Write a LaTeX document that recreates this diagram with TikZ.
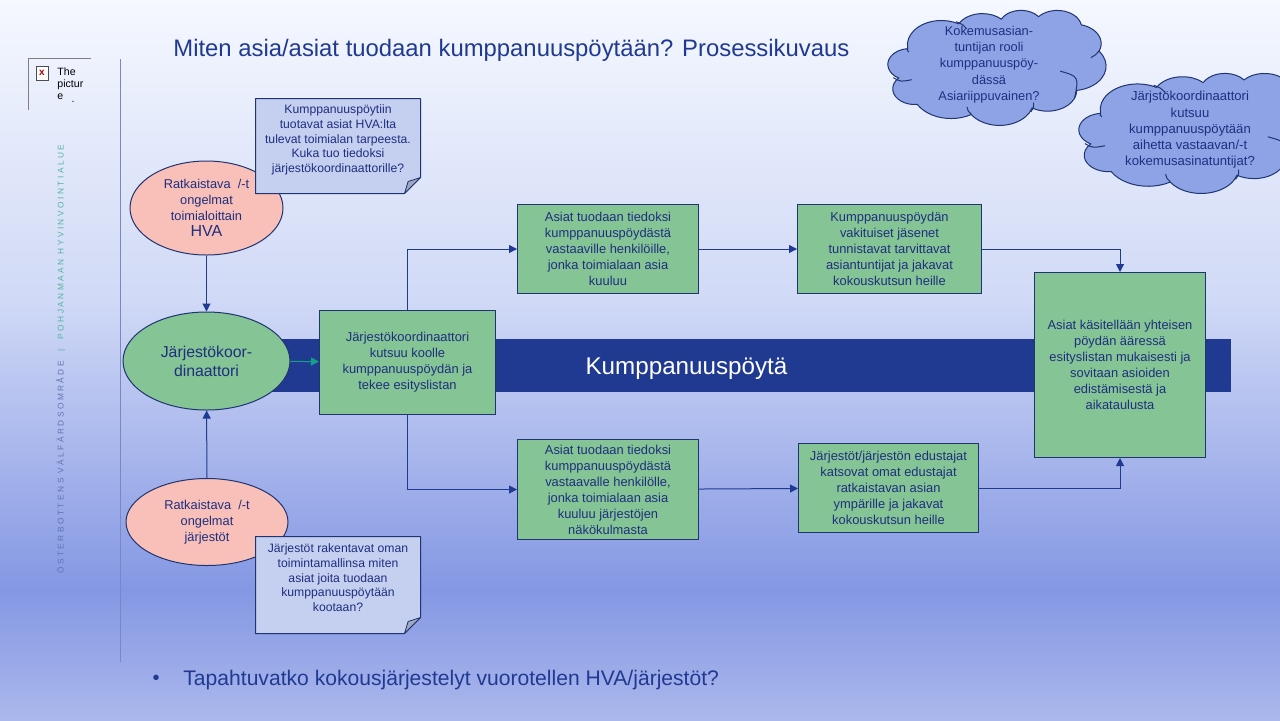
\documentclass[tikz,border=0pt]{standalone}
\usepackage{fontspec}
\setmainfont{Liberation Sans}
\newfontfamily\spaced[LetterSpace=30]{Liberation Sans}
\usetikzlibrary{positioning,arrows.meta,shapes.geometric}
\definecolor{ink}{HTML}{1F2F7F}
\definecolor{navy}{HTML}{203A92}
\definecolor{edge}{HTML}{1F3470}
\definecolor{vihrea}{HTML}{85C495}
\definecolor{pun}{HTML}{F8C0B8}
\definecolor{lappu}{HTML}{C5CFF0}
\definecolor{pilvi}{HTML}{8EA3E6}
\definecolor{taite}{HTML}{A0A8C0}
\definecolor{turkoosi}{HTML}{4FB5A0}
\definecolor{harmaa}{HTML}{5F75B0}
\definecolor{nuoli}{HTML}{14A085}
\definecolor{bgA}{HTML}{F5F8FF}
\definecolor{bgB}{HTML}{D0D9F6}
\definecolor{bgC}{HTML}{8497E3}
\definecolor{bgD}{HTML}{ABB8EC}
\tikzset{
  >={Triangle[length=4pt,width=4pt]},
  box/.style={draw=edge, line width=.5pt, fill=vihrea, align=center, text=ink, inner sep=0pt,
              font=\fontsize{6.45}{8}\selectfont},
  soikio/.style={ellipse, draw=edge, line width=.5pt, align=center, text=ink, inner sep=0pt},
  prob/.style={soikio, fill=pun, font=\fontsize{6.4}{8}\selectfont},
  lappubox/.style={minimum width=83pt, align=center, text=ink, inner sep=0pt,
              font=\fontsize{6.1}{7.3}\selectfont,
              path picture={
                \coordinate (nw) at ([shift={(.25pt,-.25pt)}]path picture bounding box.north west);
                \coordinate (ne) at ([shift={(-.25pt,-.25pt)}]path picture bounding box.north east);
                \coordinate (sw) at ([shift={(.25pt,.25pt)}]path picture bounding box.south west);
                \coordinate (se) at ([shift={(-.25pt,.25pt)}]path picture bounding box.south east);
                \draw[edge, line width=.5pt, fill=lappu, line join=round]
                  (nw) -- (ne) -- ([yshift=8pt]se) -- ([xshift=-8pt]se) -- (sw) -- cycle;
                \draw[edge, line width=.4pt, fill=taite, line join=round]
                  ([xshift=-8pt]se) -- ([shift={(-6.2pt,6pt)}]se) -- ([yshift=8pt]se) -- cycle;
              }},
  pilviline/.style={draw=edge, line width=.5pt, fill=pilvi},
  crease/.style={draw=edge, line width=.5pt},
  pilvitxt/.style={align=center, text=ink, inner sep=0pt, font=\fontsize{6.4}{8.1}\selectfont},
  l/.style={->, line width=.5pt, draw=navy},
}
% one lobe of the cloud outline: x radius, y radius, start, sweep
\newcommand{\lobe}[4]{arc[x radius=#1,y radius=#2,start angle={atan2(#1*sin(#3),#2*cos(#3))},
  delta angle={mod(atan2(#1*sin(#3+#4),#2*cos(#3+#4))-atan2(#1*sin(#3),#2*cos(#3))+720,360)}]}
\newcommand{\pilvi}{
  \draw[pilviline] (39,143.7) \lobe{67.53}{91.90}{-190.487}{123.78} \lobe{53.33}{72.67}{-144.102}{89.945}
    \lobe{43.65}{59.45}{-145.808}{99.723} \lobe{48.57}{65.95}{-130.986}{117.242}
    \lobe{53.33}{72.73}{-78.709}{109.027} \lobe{67.75}{92.20}{-46.267}{130.269}
    \lobe{57.85}{78.67}{0.625}{114.033} \lobe{67.52}{92.15}{22.452}{115.173}
    \lobe{77.20}{105.43}{66.243}{75.711} \lobe{43.60}{59.18}{-274.942}{146.736}
    \lobe{43.45}{59.45}{-246.829}{152.519} -- cycle;
  % inner creases
  \draw[crease] (39,143.7) .. controls (38,152) .. (41.27,157.89);
  \draw[crease] (46.93,261.77) .. controls (25,270) .. (10.6,254);
  \draw[crease] (164.78,390.9) .. controls (158,378) .. (156.5,364);
  \draw[crease] (288.27,347.51) .. controls (289,365) .. (283,383);
  \draw[crease] (341.29,229.54) .. controls (378,250) .. (370,330);
  \draw[crease] (417.98,153.54) .. controls (412,168) .. (402,179);
  \draw[crease] (135,44) .. controls (148,54) .. (156,71);
}
\begin{document}
\begin{tikzpicture}[x=.5pt,y=-.5pt]
  \useasboundingbox (0,0) rectangle (1280,720);
  \clip (0,0) rectangle (1280,720);
  % background
  \fill[top color=bgA, bottom color=bgB] (0,0) rectangle (1280,300);
  \fill[top color=bgB, bottom color=bgC] (0,300) rectangle (1280,590);
  \fill[top color=bgC, bottom color=bgD] (0,590) rectangle (1280,720);
  % missing logo
  \draw[gray, line width=.5pt] (28,110) -- (28,58) -- (91,58);
  \node[draw=black!70, fill=white, line width=.4pt, minimum width=6pt, minimum height=7pt, inner sep=0pt,
        text=red!70!black, font=\fontsize{5}{5}\selectfont\bfseries] (kuvake) at (42,73) {x};
  \node[align=left, inner sep=0pt, anchor=north west, font=\fontsize{5.3}{6.2}\selectfont] (kuvateksti) at (57,67) {The\\pictur\\e};
  \node[inner sep=0pt, font=\fontsize{5.3}{6}\selectfont] (kuvapiste) at (73,102) {.};
  \draw[color=navy!60, line width=.6pt] (120.5,59) -- (120.5,662);
  \node[rotate=90, inner sep=0pt, anchor=west, font=\fontsize{4.15}{4}\spaced] (logo) at (61,574)
    {\textcolor{harmaa}{ÖSTERBOTTENS VÄLFÄRDSOMRÅDE}\hspace{2.5pt} \textcolor{turkoosi}{|\hspace{2.5pt} POHJANMAAN HYVINVOINTIALUE}};
  % title and bottom line
  \node[text=navy, inner sep=0pt, anchor=west, font=\fontsize{11.93}{14}\selectfont] (otsikko) at (173,50.5)
    {Miten asia/asiat tuodaan kumppanuuspöytään? Prosessikuvaus};
  \node[text=navy, inner sep=0pt, font=\fontsize{10}{12}\selectfont] (luetelma) at (156,680) {•};
  \node[text=navy, inner sep=0pt, anchor=west, font=\fontsize{10.55}{12}\selectfont] (kysymys) at (183,680)
    {Tapahtuvatko kokousjärjestelyt vuorotellen HVA/järjestöt?};
  % band
  \node[fill=navy, minimum width=480.5pt, minimum height=26.5pt, inner sep=0pt] (poyta) at (750.5,365.5) {};
  \node[text=white, inner sep=0pt, font=\fontsize{12.1}{14}\selectfont] (poytateksti) at (686.5,369) {Kumppanuuspöytä};
  % left column
  \node[prob, minimum width=76.5pt, minimum height=47pt] (hva) at (206.5,208)
    {Ratkaistava\ \ /-t\\ongelmat\\toimialoittain\\{\fontsize{8}{10}\selectfont HVA}};
  \node[soikio, fill=vihrea, minimum width=83.5pt, minimum height=49pt, font=\fontsize{7.9}{9.5}\selectfont] (koord) at (206.5,361)
    {Järjestökoor-\\dinaattori};
  \node[prob, minimum width=81pt, minimum height=43.5pt] (jarj) at (207,522)
    {Ratkaistava\ \ /-t\\ongelmat\\järjestöt};
  \node[lappubox, minimum height=48pt] (lappu1) at (338,146)
    {Kumppanuuspöytiin\\tuotavat asiat HVA:lta\\tulevat toimialan tarpeesta.\\Kuka tuo tiedoksi\\järjestökoordinaattorille?\\\ };
  \node[lappubox, minimum height=49pt] (lappu2) at (338,585)
    {Järjestöt rakentavat oman\\toimintamallinsa miten\\asiat joita tuodaan\\kumppanuuspöytään\\kootaan?\\\ };
  % green boxes
  \node[box, minimum width=88pt, minimum height=52pt] (kutsu) at (407.5,362)
    {Järjestökoordinaattori\\kutsuu koolle\\kumppanuuspöydän ja\\tekee esityslistan};
  \node[box, minimum width=90.5pt, minimum height=44.5pt] (ylos1) at (608,249)
    {Asiat tuodaan tiedoksi\\kumppanuuspöydästä\\vastaaville henkilöille,\\jonka toimialaan asia\\kuuluu};
  \node[box, minimum width=92pt, minimum height=44.5pt, right=49pt of ylos1] (ylos2)
    {Kumppanuuspöydän\\vakituiset jäsenet\\tunnistavat tarvittavat\\asiantuntijat ja jakavat\\kokouskutsun heille};
  \node[box, minimum width=90.5pt, minimum height=50pt] (alas1) at (608,489.5)
    {Asiat tuodaan tiedoksi\\kumppanuuspöydästä\\vastaavalle henkilölle,\\jonka toimialaan asia\\kuuluu järjestöjen\\näkökulmasta};
  \node[box, minimum width=90pt, minimum height=44.5pt] (alas2) at (888.5,488)
    {Järjestöt/järjestön edustajat\\katsovat omat edustajat\\ratkaistavan asian\\ympärille ja jakavat\\kokouskutsun heille};
  \node[box, minimum width=85.5pt, minimum height=92.5pt] (loppu) at (1120,365)
    {Asiat käsitellään yhteisen\\pöydän ääressä\\esityslistan mukaisesti ja\\sovitaan asioiden\\edistämisestä ja\\aikataulusta};
  % connectors
  \draw[l] (hva) -- (koord);
  \draw[l] (jarj) -- (koord);
  \draw[l, draw=nuoli] (koord) -- (kutsu);
  \draw[l] (kutsu.north) |- (ylos1);
  \draw[l] (kutsu.south) |- (alas1);
  \draw[l] (ylos1) -- (ylos2);
  \draw[l] (alas1) -- (alas2);
  \draw[l] (ylos2) -| (loppu);
  \draw[l] (alas2) -| (loppu);
  % clouds
  \begin{scope}[shift={(888,10)},x=.2523pt,y=-.1331pt]
    \pilvi
  \end{scope}
  \node[pilvitxt] (pilvi1) at (989,64.5)
    {Kokemusasian-\\tuntijan rooli\\kumppanuuspöy-\\dässä\\Asiariippuvainen?};
  \begin{scope}[shift={(1079,73)},x=.2766pt,y=-.1389pt]
    \pilvi
  \end{scope}
  \node[pilvitxt, font=\fontsize{6.55}{8.1}\selectfont] (pilvi2) at (1190,130)
    {Järjstökoordinaattori\\kutsuu\\kumppanuuspöytään\\aihetta vastaavan/-t\\kokemusasinatuntijat?};
\end{tikzpicture}
\end{document}
